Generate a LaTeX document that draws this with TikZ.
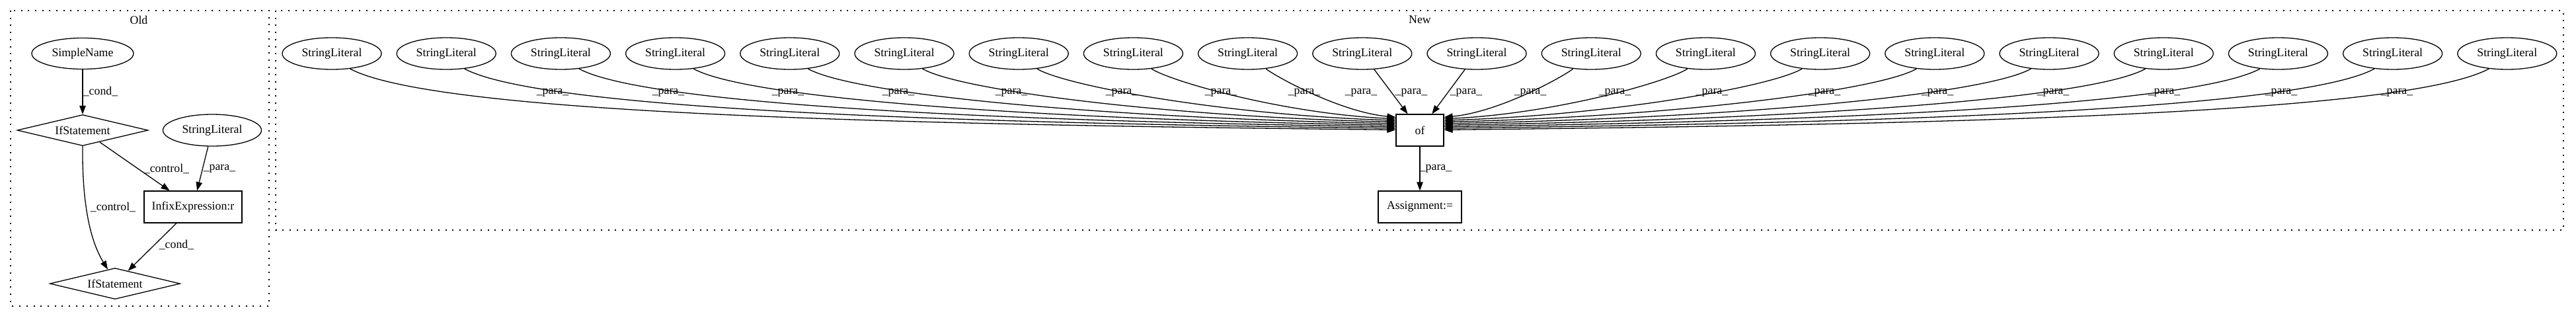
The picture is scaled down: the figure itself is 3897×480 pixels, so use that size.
\documentclass[tikz,border=0pt]{standalone}
\usepackage{fontspec}
\setmainfont{Liberation Serif}
\usetikzlibrary{shapes.geometric,arrows.meta,calc}
\begin{document}
\begin{tikzpicture}[x=1pt,y=-1pt,
  every node/.style={font=\fontsize{17.8}{21}\selectfont},
  ell/.style={draw,ellipse,line width=1.3pt,inner sep=0pt,minimum width=150pt,minimum height=48pt},
  box/.style={draw,rectangle,line width=1.3pt,inner sep=0pt,minimum height=48pt},
  dia/.style={draw,diamond,line width=1.3pt,inner sep=0pt,aspect=4.2,minimum width=198pt,minimum height=47pt},
  edge/.style={line width=1.3pt,-{Triangle[length=13pt,width=9.5pt]}},
  lbl/.style={inner sep=0pt},
  clus/.style={line width=1.3pt,dash pattern=on 2pt off 8.7pt}
]
\useasboundingbox (0,0) rectangle (3897,480);
% ---------------- Old ----------------
\draw[clus] (16,16) rectangle (407,463);
\node (oldlbl) at (210,30) {Old};
\node[ell,minimum width=154pt,minimum height=47pt] (sn) at (125,81) {SimpleName};
\node[dia] (if1) at (125,197) {IfStatement};
\node[ell,minimum width=149pt] (sl0) at (321,197) {StringLiteral};
\node[box,minimum width=148pt] (infix) at (292,313) {InfixExpression:r};
\node[dia,minimum width=197pt] (if2) at (174,429) {IfStatement};
\draw[edge] (sn) -- (if1);
\draw[edge] (if1) -- (infix);
\draw[edge] (sl0) -- (infix);
\draw[edge] (if1.south) .. controls (124,320) and (140,370) .. (if2.117);
\draw[edge] (infix) -- (if2);
\node[lbl] (o1) at (152,138) {\_cond\_};
\node[lbl] (o2) at (252,255) {\_control\_};
\node[lbl] (o3) at (332,255) {\_para\_};
\node[lbl] (o4) at (171,313) {\_control\_};
\node[lbl] (o5) at (267,370) {\_cond\_};
% ---------------- New ----------------
\draw[clus] (417,16) rectangle (3878,348);
\node (newlbl) at (2148,30) {New};
\foreach \k in {0,...,19}{
  \node[ell] (s\k) at ({502+173.2*\k},81) {StringLiteral};
}
\node[box,minimum width=72pt] (of) at (2148,197) {of};
\node[box,minimum width=126pt] (asg) at (2148,313) {Assignment:=};
\draw[edge] (of) -- (asg);
\node[lbl] (pa) at (2172,255) {\_para\_};
\foreach \k in {0,...,8}{
  \pgfmathsetmacro\ey{24-2.375*\k}
  \pgfmathsetmacro\dx{1553-173.2*\k}
  \pgfmathsetmacro\drop{(\dx/1553)*60}
  \pgfmathsetmacro\hx{0.5*\dx}
  \coordinate (eL\k) at ($(of.north west)+(0,\ey)$);
  \draw[edge] (s\k.-40) .. controls ($(s\k.-40)!0.08!(eL\k)+(0,\drop)$) and ($(eL\k)+(-\hx,-8)$) .. (eL\k);
}
\draw[edge] (s9) -- (of);
\draw[edge] (s10) -- (of);
\foreach \k in {11,...,19}{
  \pgfmathsetmacro\j{19-\k}
  \pgfmathsetmacro\ey{24-2.375*\j}
  \pgfmathsetmacro\dx{1553-173.2*\j}
  \pgfmathsetmacro\drop{(\dx/1553)*60}
  \pgfmathsetmacro\hx{0.5*\dx}
  \coordinate (eR\k) at ($(of.north east)+(0,\ey)$);
  \draw[edge] (s\k.-140) .. controls ($(s\k.-140)!0.08!(eR\k)+(0,\drop)$) and ($(eR\k)+(\hx,-8)$) .. (eR\k);
}
\foreach \lx [count=\i] in {836,1011,1192,1359,1530,1697,1847,1973,2059,2135,2218,2315,2443,2590,2760,2931,3106,3274,3451,3626}{
  \node[lbl] (p\i) at (\lx,140) {\_para\_};
}
\end{tikzpicture}
\end{document}
